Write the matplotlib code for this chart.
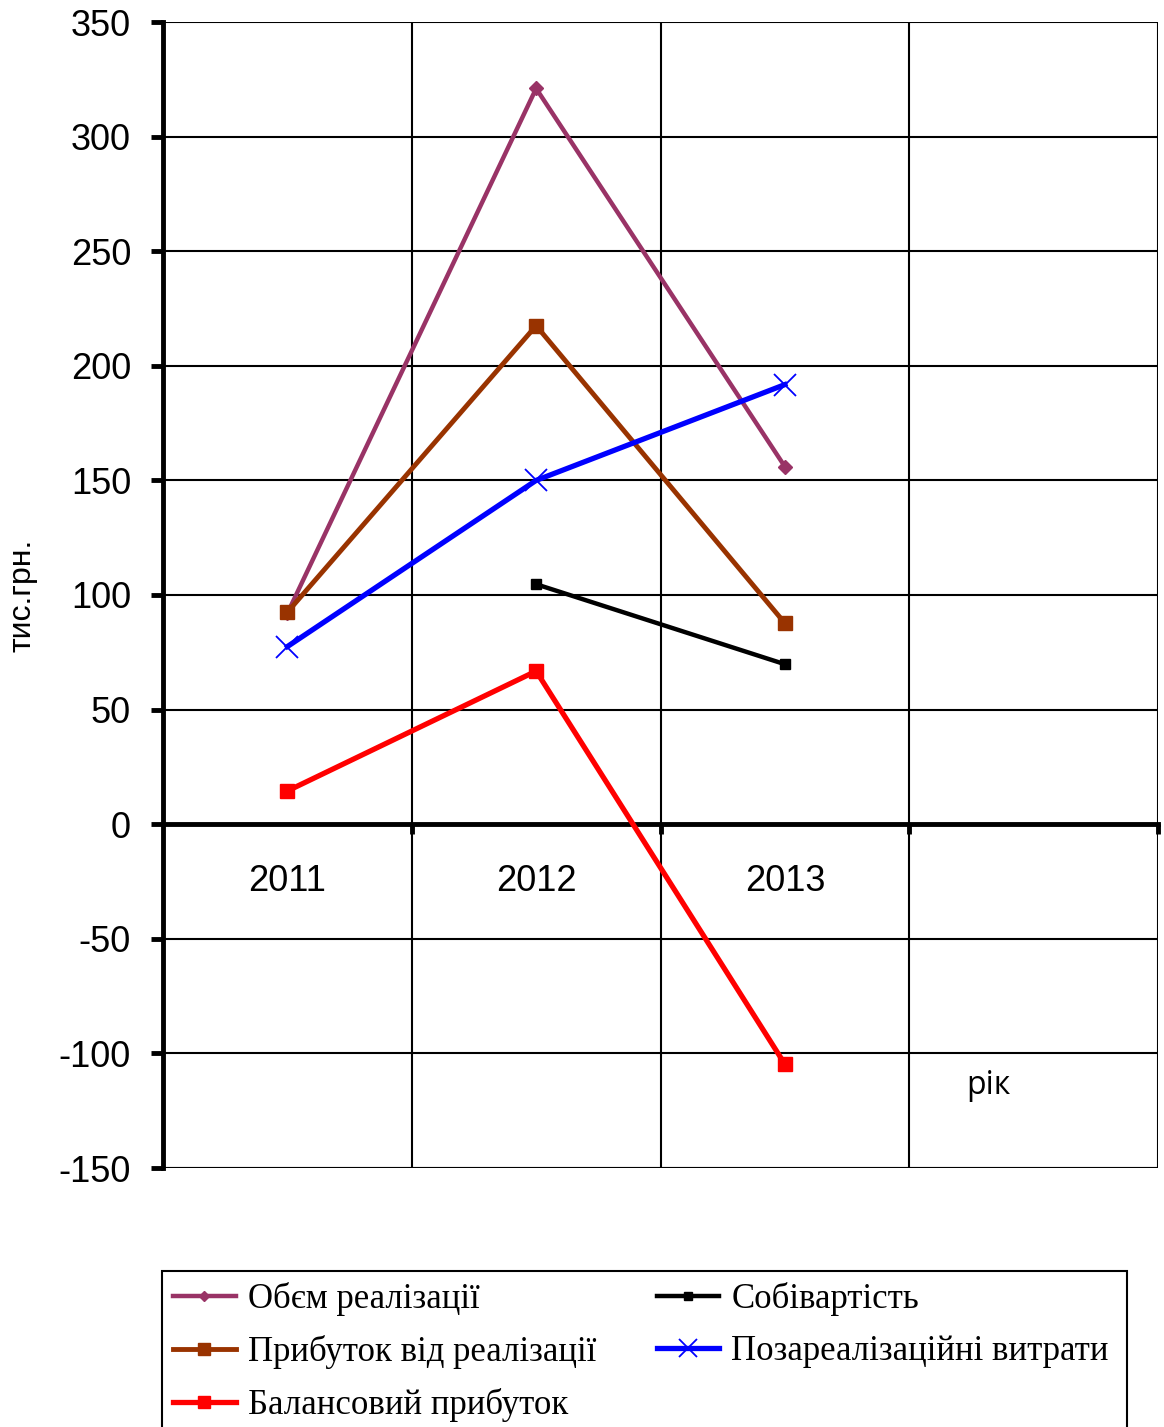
import matplotlib.pyplot as plt
from matplotlib.patches import Rectangle
import numpy as np

years = ['2011', '2012', '2013']
obsyag = [92, 321, 156]
prybutok = [92.5, 217.5, 87.7]
sobivartist = [np.nan, 104.7, 69.8]
pozarealiz = [77.5, 150, 191.8]
balans = [14.5, 66.8, -104.7]

x = np.arange(len(years))

fig = plt.figure(figsize=(11.64, 14.27), dpi=100)
ax = fig.add_axes([163/1164, 1 - 1168/1427, 995/1164, 1146/1427])

ax.set_xlim(-0.5, 3.5)
ax.set_ylim(-150, 350)

# grid
for gx in [0.5, 1.5, 2.5, 3.5]:
    ax.axvline(gx, color='black', lw=1.5, zorder=1)
for gy in range(-150, 351, 50):
    ax.axhline(gy, color='black', lw=1.5, zorder=1)

h1, = ax.plot(x, obsyag, color='#993366', lw=3.2, marker='D', ms=7, label='Обєм реалізації', zorder=3)
h2, = ax.plot(x, prybutok, color='#993300', lw=3.5, marker='s', ms=10, label='Прибуток від реалізації', zorder=3)
h3, = ax.plot(x, balans, color='#ff0000', lw=3.8, marker='s', ms=10, label='Балансовий прибуток', zorder=3)
h4, = ax.plot(x, sobivartist, color='black', lw=3.2, marker='s', ms=7, label='Собівартість', zorder=3)
h5, = ax.plot(x, pozarealiz, color='#0000ff', lw=3.8, marker='x', ms=16, mew=1.3, label='Позареалізаційні витрати', zorder=3)

ax.spines['left'].set_linewidth(3.5)
ax.spines['bottom'].set_position(('data', 0))
ax.spines['bottom'].set_linewidth(3.5)
ax.spines['top'].set_visible(False)
ax.spines['right'].set_visible(False)
ax.axhline(-150, color='black', lw=2.2, zorder=2)

ax.set_yticks(range(-150, 351, 50))
ax.set_yticklabels([str(v) for v in range(-150, 351, 50)], family='Liberation Sans', fontsize=26)
ax.tick_params(axis='y', direction='out', length=9, width=3.5, pad=14)

ax.set_xticks([0.5, 1.5, 2.5, 3.5])
ax.set_xticklabels([])
ax.tick_params(axis='x', which='major', direction='out', length=7, width=3.5)
ax.set_xticks(x, minor=True)
ax.set_xticklabels(years, minor=True, family='Liberation Sans', fontsize=26)
ax.tick_params(axis='x', which='minor', length=0, pad=29)

ax.set_ylabel('тис.грн.', family='Liberation Sans', fontsize=23)
ax.yaxis.set_label_coords(-0.126, 0.5)

ax.text(2.82, -114, 'рік', family='Open Sans', fontsize=23, ha='center', va='center')

leg = fig.legend(handles=[h1, h2, h3, h4, h5], ncol=2, loc='upper left',
                 bbox_to_anchor=(162/1164, 1 - 1271/1427), frameon=False,
                 prop={'family': 'Liberation Serif', 'size': 25},
                 handlelength=1.8, handletextpad=0.35, columnspacing=1.75,
                 labelspacing=0.55, borderaxespad=0, borderpad=0.32,
                 markerscale=0.8)

# legend frame runs past the bottom edge of the picture
fig.patches.append(Rectangle((162/1164, -0.05), (1127 - 162)/1164, 0.05 + (1427 - 1271)/1427,
                             transform=fig.transFigure, fill=False, edgecolor='black', lw=1.5))

fig.savefig('out.png', dpi=100)
